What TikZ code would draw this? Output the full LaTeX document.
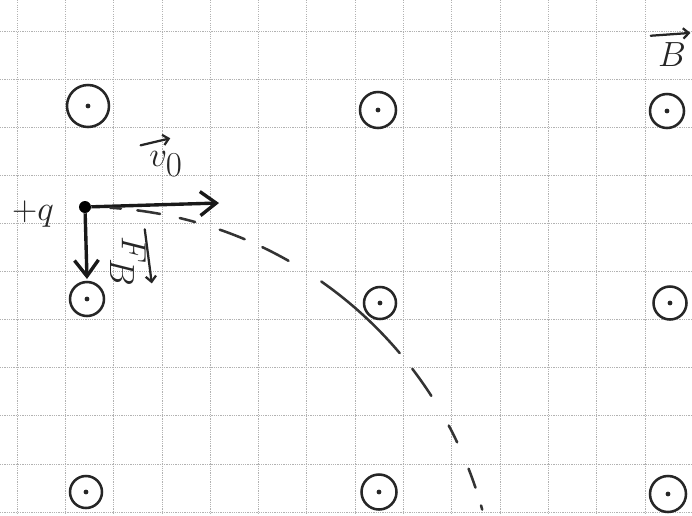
\documentclass[tikz,border=0pt]{standalone}
\usepackage{amsmath,amssymb}
\usetikzlibrary{arrows.meta}

\begin{document}
\begin{tikzpicture}[x=0.025cm, y=-0.025cm,
  gridline/.style = {gray!60, line width=0.5pt, dash pattern=on 0.8pt off 0.8pt},
  bout/.style = {draw=black!85, circle, line width=1.8pt, inner sep=0pt,
    path picture={\fill[black!85] (path picture bounding box.center) circle (1.7pt);}},
  charge/.style = {circle, fill=black, inner sep=0pt, minimum size=3mm},
  vecarrow/.style = {black!90, line width=2.4pt, -{Straight Barb[length=4mm, width=6mm, line width=2.4pt]}},
  overarrow/.style = {black!85, line width=1.6pt, line cap=round, -{Straight Barb[length=1.4mm, width=2.6mm, line width=1.6pt]}},
  traj/.style = {black!80, line width=1.8pt, line cap=round},
  big/.style = {black!85, inner sep=1pt, font=\fontsize{36}{40}\selectfont}]
\useasboundingbox (0,0) rectangle (692,515);
\fill[white] (0,0) rectangle (692,515);

% squared paper
\foreach \i in {0,...,14}
  \draw[gridline] ({17+48.3*\i},0) -- ({17+48.3*\i},515);
\foreach \j in {0,...,10}
  \draw[gridline] (0,{31+48.1*\j}) -- (692,{31+48.1*\j});

% field out of the page
\foreach \n/\x/\y/\r in {1/88/106/21, 2/378/110/18, 3/667/111/17, 4/87/299/17, 5/380/303/16, 6/670/303/16.5, 7/86/492/16, 8/379/492/17.5, 9/668/494/18}
  \node[bout, minimum size={2*\r*0.025cm}] (b\n) at (\x,\y) {};
\node[big, font=\fontsize{40}{44}\selectfont] (lb) at (672,55) {$B$};
\draw[overarrow] ([xshift=-4pt, yshift=4pt]lb.north west) -- ([xshift=2pt, yshift=6pt]lb.north east);

% charge and vectors
\node[charge] (q) at (85,207) {};
\node[big, font=\fontsize{32}{36}\selectfont] (lq) at (33,214) {$+q$};
\coordinate (vtip) at (219,203);
\coordinate (ftip) at (87,279);
\draw[vecarrow] (q) -- (vtip);
\draw[vecarrow] (q) -- (ftip);
\node[big, font=\fontsize{44}{48}\selectfont] (lv) at (166,164) {$v_0$};
\draw[overarrow] ([xshift=-5pt, yshift=3pt]lv.north west) -- ([xshift=-10pt, yshift=8pt]lv.north east);
\node[big, rotate=-90] (lf) at (128,262) {$F_B$};
\draw[overarrow] ([xshift=-2pt, yshift=4pt]lf.north west) -- ([xshift=3pt, yshift=4pt]lf.north east);

% path of the charge
\coordinate (c) at (85,619);
\foreach \a/\b in {3.5/5, 7.3/10.5, 13.3/15.5, 19.1/22.8, 25.5/29.6, 35/49.8, 52.6/57.2, 62/64.6, 68.6/71.4, 74/74.6}
  \draw[traj] (c) ++({\a-90}:412) arc[start angle={\a-90}, end angle={\b-90}, radius=412];
\end{tikzpicture}
\end{document}
